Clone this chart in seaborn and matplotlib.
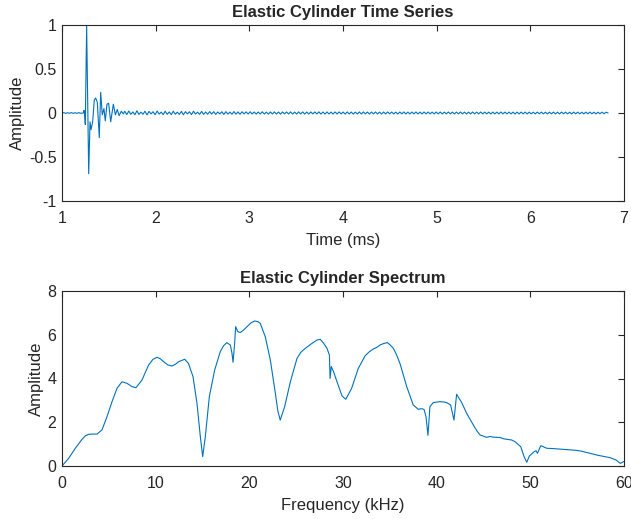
import numpy as np
import pandas as pd
import seaborn as sns
import matplotlib
matplotlib.use("Agg")
import matplotlib.pyplot as plt

# ---------------- data ----------------
# time series: pre-event, event, and ringing tail
pre_t = [1.00, 1.02, 1.04, 1.06, 1.08, 1.10, 1.12, 1.14, 1.16, 1.18, 1.20, 1.22]
pre_a = [0.0, 0.004, -0.004, 0.003, -0.003, 0.004, -0.004, 0.003, -0.004, 0.004, -0.003, 0.0]

event_t = [1.228, 1.235, 1.242, 1.249, 1.263, 1.285, 1.299, 1.31, 1.327, 1.345, 1.36,
           1.377, 1.398, 1.413, 1.43, 1.448, 1.462, 1.48, 1.498, 1.52, 1.548, 1.57,
           1.59, 1.61, 1.633, 1.655]
event_a = [0.0, 0.03, -0.02, -0.13, 1.0, -0.69, -0.1, -0.19, -0.1, 0.15, 0.17,
           0.12, -0.28, 0.235, -0.02, 0.05, -0.09, 0.1, 0.11, -0.1, 0.1, -0.02,
           0.04, -0.03, 0.02, -0.01]

tail_start, tail_end = 1.67, 6.83
tail_a = [
    0.020, -0.018, 0.022, -0.015, 0.012, -0.020, 0.025, -0.016, 0.010, -0.014,
    0.020, -0.022, 0.018, -0.010, 0.015, -0.020, 0.022, -0.012, 0.010, -0.018,
    0.020, -0.015, 0.012, -0.018, 0.020, -0.014, 0.010, -0.016, 0.018, -0.020,
    0.015, -0.010, 0.014, -0.018, 0.020, -0.012, 0.010, -0.015, 0.018, -0.016,
    0.012, -0.014, 0.016, -0.012, 0.015, -0.016, 0.012, -0.010, 0.014, -0.016,
    0.015, -0.012, 0.010, -0.014, 0.016, -0.013, 0.012, -0.015, 0.014, -0.010,
    0.013, -0.012, 0.014, -0.011, 0.012, -0.013, 0.011, -0.012, 0.014, -0.012,
    0.010, -0.013, 0.012, -0.011, 0.013, -0.012, 0.011, -0.013, 0.012, -0.010,
    0.012, -0.011, 0.013, -0.012, 0.010, -0.012, 0.013, -0.011, 0.012, -0.012,
    0.011, -0.012, 0.012, -0.010, 0.012, -0.011, 0.013, -0.012, 0.011, -0.012,
    0.012, -0.011, 0.010, -0.012, 0.012, -0.011, 0.012, -0.010, 0.011, -0.012,
    0.012, -0.011, 0.011, -0.012, 0.010, -0.011, 0.012, -0.011, 0.012, -0.010,
    0.011, -0.012, 0.011, -0.010, 0.012, -0.011, 0.010, -0.012, 0.011, -0.011,
    0.012, -0.010, 0.011, -0.011, 0.010, -0.012, 0.011, -0.010, 0.012, -0.011,
    0.010, -0.011, 0.011, -0.010, 0.012, -0.011, 0.010, -0.011, 0.011, -0.010,
    0.011, -0.010, 0.010, -0.011, 0.011, -0.010, 0.011, -0.011, 0.010, -0.010,
    0.011, -0.010, 0.010, -0.011, 0.010, -0.010, 0.011, -0.010, 0.010, -0.011,
    0.010, -0.010, 0.011, -0.010, 0.010, -0.010, 0.011, -0.010, 0.010, -0.010,
    0.010, -0.011, 0.010, -0.010, 0.010, -0.010, 0.011, -0.010, 0.010, -0.010,
    0.010, -0.010, 0.010, -0.011, 0.010, -0.010, 0.010, -0.010, 0.010, -0.010,
    0.010, -0.010, 0.009, -0.010, 0.010, -0.009, 0.010, -0.010, 0.009, -0.010,
    0.010, -0.009, 0.010, -0.010, 0.009, -0.010, 0.010, -0.009, 0.010, -0.010,
    0.009, -0.010, 0.010, -0.009, 0.010, -0.010, 0.009, -0.010, 0.010, -0.009,
    0.010, -0.009, 0.009, -0.010, 0.009, -0.009, 0.010, -0.009, 0.009, 0.0,
]

# spectrum (10 values per row in both lists)
freq_khz = [
    0.0, 0.71, 1.42, 2.14, 2.5, 2.85, 3.3, 3.74, 4.27, 4.8,
    5.34, 5.87, 6.4, 6.94, 7.47, 7.9, 8.54, 9.25, 9.7, 10.14,
    10.5, 10.85, 11.3, 11.74, 12.1, 12.46, 13.1, 13.5, 13.99, 14.41,
    14.77, 15.02, 15.3, 15.73, 16.3, 16.9, 17.25, 17.6, 17.97, 18.15,
    18.26, 18.43, 18.54, 18.75, 19.04, 19.4, 19.75, 20.2, 20.57, 20.9,
    21.17, 21.7, 22.24, 22.78, 23.05, 23.3, 23.77, 24.38, 25.09, 25.5,
    25.98, 26.6, 27.22, 27.58, 27.95, 28.29, 28.55, 28.62, 28.75, 29.0,
    29.36, 29.9, 30.3, 30.92, 31.63, 32.35, 32.8, 33.24, 33.6, 33.95,
    34.35, 34.73, 35.0, 35.37, 35.7, 36.08, 36.8, 37.5, 38.04, 38.35,
    38.65, 38.86, 39.07, 39.28, 39.64, 40.0, 40.35, 40.7, 41.06, 41.49,
    41.85, 42.13, 42.67, 43.2, 43.92, 44.3, 44.63, 45.0, 45.34, 45.7,
    46.0, 46.41, 46.8, 47.1, 47.48, 48.0, 48.37, 48.98, 49.33, 49.62,
    49.9, 50.4, 50.6, 50.76, 51.12, 51.76, 52.3, 52.9, 53.54, 54.2,
    54.8, 55.32, 56.2, 57.1, 57.8, 58.52, 59.16, 59.6, 60.0,
]
spectrum_amp = [
    0.0, 0.35, 0.81, 1.22, 1.38, 1.45, 1.46, 1.46, 1.65, 2.25,
    2.94, 3.55, 3.85, 3.78, 3.63, 3.58, 3.93, 4.62, 4.87, 4.97,
    4.9, 4.77, 4.62, 4.57, 4.65, 4.77, 4.88, 4.69, 4.08, 2.87,
    1.34, 0.43, 1.34, 3.17, 4.39, 5.23, 5.5, 5.64, 5.53, 5.15,
    4.74, 5.6, 6.37, 6.15, 6.1, 6.22, 6.37, 6.55, 6.63, 6.6,
    6.52, 5.91, 4.85, 3.32, 2.5, 2.1, 2.71, 3.85, 4.92, 5.2,
    5.38, 5.58, 5.76, 5.79, 5.6, 5.38, 5.07, 4.0, 4.55, 4.3,
    3.85, 3.2, 3.05, 3.55, 4.46, 5.03, 5.22, 5.35, 5.42, 5.53,
    5.6, 5.64, 5.55, 5.38, 5.1, 4.69, 3.63, 2.79, 2.59, 2.62,
    2.59, 2.26, 1.4, 2.71, 2.9, 2.92, 2.94, 2.93, 2.9, 2.79,
    2.1, 3.28, 2.9, 2.41, 1.87, 1.6, 1.42, 1.36, 1.31, 1.35,
    1.32, 1.31, 1.3, 1.25, 1.22, 1.19, 1.11, 0.88, 0.43, 0.17,
    0.46, 0.65, 0.7, 0.58, 0.93, 0.81, 0.8, 0.78, 0.76, 0.74,
    0.72, 0.69, 0.6, 0.5, 0.44, 0.38, 0.27, 0.12, 0.21,
]

time_ticks = [1, 2, 3, 4, 5, 6, 7]
amp_ticks_top = [-1, -0.5, 0, 0.5, 1]
amp_tick_labels_top = ["-1", "-0.5", "0", "0.5", "1"]
freq_ticks = [0, 10, 20, 30, 40, 50, 60]
amp_ticks_bottom = [0, 2, 4, 6, 8]

# ---------------- assemble ----------------
tail_t = np.linspace(tail_start, tail_end, len(tail_a))
ts = pd.DataFrame({
    "t": np.concatenate([pre_t, event_t, tail_t]),
    "a": np.concatenate([pre_a, event_a, tail_a]),
})
sp = pd.DataFrame({"f": freq_khz, "a": spectrum_amp})

sns.set_theme(style="white")
plt.rcParams.update({
    "font.family": ["Liberation Sans", "DejaVu Sans"],
    "axes.unicode_minus": False,
    "axes.edgecolor": "#262626",
    "axes.linewidth": 0.8,
    "xtick.direction": "in",
    "ytick.direction": "in",
    "xtick.color": "#262626",
    "ytick.color": "#262626",
    "xtick.major.size": 4,
    "ytick.major.size": 4,
    "xtick.major.width": 0.8,
    "ytick.major.width": 0.8,
    "xtick.top": True,
    "ytick.right": True,
})

LINE = "#0072BD"
fig = plt.figure(figsize=(6.31, 5.19), dpi=100)
ax1 = fig.add_axes([62 / 631, 1 - 201 / 519, 562 / 631, 176 / 519])
ax2 = fig.add_axes([62 / 631, 1 - 466 / 519, 562 / 631, 175 / 519])

sns.lineplot(data=ts, x="t", y="a", ax=ax1, color=LINE, linewidth=0.8,
             estimator=None, sort=False)
sns.lineplot(data=sp, x="f", y="a", ax=ax2, color=LINE, linewidth=0.8,
             estimator=None, sort=False)

ax1.set_xlim(1, 7)
ax1.set_ylim(-1, 1)
ax1.set_xticks(time_ticks)
ax1.set_xticklabels([str(v) for v in time_ticks])
ax1.set_yticks(amp_ticks_top)
ax1.set_yticklabels(amp_tick_labels_top)
ax1.set_xlabel("Time (ms)", fontsize=12, labelpad=5)
ax1.set_ylabel("Amplitude", fontsize=12, labelpad=2.5)
ax1.set_title("Elastic Cylinder Time Series", fontsize=12, fontweight="bold", pad=6)

ax2.set_xlim(0, 60)
ax2.set_ylim(0, 8)
ax2.set_xticks(freq_ticks)
ax2.set_xticklabels([str(v) for v in freq_ticks])
ax2.set_yticks(amp_ticks_bottom)
ax2.set_yticklabels([str(v) for v in amp_ticks_bottom])
ax2.set_xlabel("Frequency (kHz)", fontsize=12, labelpad=5)
ax2.set_ylabel("Amplitude", fontsize=12, labelpad=2.5)
ax2.set_title("Elastic Cylinder Spectrum", fontsize=12, fontweight="bold", pad=6)

for ax in (ax1, ax2):
    ax.tick_params(axis="both", labelsize=11.5, top=True, right=True)
    ax.tick_params(axis="x", pad=7.5)
    ax.tick_params(axis="y", pad=4)
    for s in ax.spines.values():
        s.set_visible(True)
    if ax.get_legend() is not None:
        ax.get_legend().remove()

fig.savefig("out.png", dpi=100, facecolor="white")
